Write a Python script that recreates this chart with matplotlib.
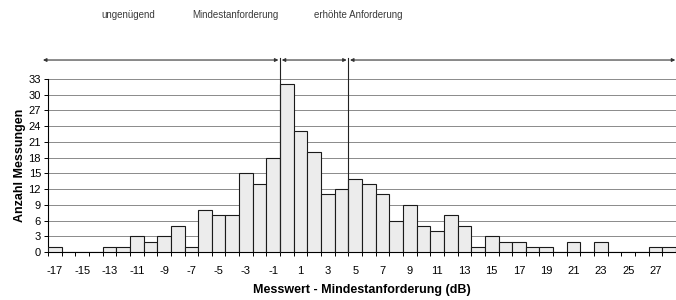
import matplotlib.pyplot as plt
import numpy as np

plt.rcParams['font.family'] = ['Liberation Sans', 'DejaVu Sans']

# Messwert - Mindestanforderung (dB), one bar per dB
werte = list(range(-17, 29))
anzahl = [1, 0, 0, 0, 1, 1, 3, 2, 3, 5, 1, 8, 7, 7, 15, 13, 18,
          32, 23, 19, 11, 12,
          14, 13, 11, 6, 9, 5, 4, 7, 5, 1, 3, 2, 2, 1, 1, 0, 2, 0, 2, 0, 0, 0, 1, 1]
bereiche = ['ungenügend', 'Mindestanforderung', 'erhöhte Anforderung']
grenzen = [-0.5, 4.5]  # dB boundaries between the areas

idx = np.arange(len(werte))
fig = plt.figure(figsize=(6.76, 3.0), dpi=100)
ax = fig.add_axes([0.071, 0.16, 0.929, 0.577])

ax.bar(idx, anzahl, width=1.0, color='#ececec', edgecolor='#1a1a1a', linewidth=0.8, zorder=3)

ax.set_xlim(-0.5, len(werte) - 0.5)
ax.set_ylim(0, 33)
ax.set_yticks(np.arange(0, 34, 3))
ax.yaxis.grid(True, color='#8a8a8a', linewidth=0.7, zorder=0)
ax.set_axisbelow(True)

# tick marks at bar edges, labels under every other bar
ax.set_xticks(np.arange(len(werte) + 1) - 0.5)
ax.set_xticklabels([])
ax.set_xticks(idx[::2], minor=True)
ax.set_xticklabels([str(w) for w in werte[::2]], minor=True)
ax.tick_params(axis='x', which='major', length=3, width=0.7)
ax.tick_params(axis='x', which='minor', length=0, pad=10, labelsize=8)
ax.tick_params(axis='y', length=3, width=0.7, labelsize=8, pad=2)

for s in ['top', 'right']:
    ax.spines[s].set_visible(False)
for s in ['left', 'bottom']:
    ax.spines[s].set_linewidth(0.8)

ax.set_xlabel('Messwert - Mindestanforderung (dB)', fontsize=9, fontweight='bold', labelpad=6)
ax.set_ylabel('Anzahl Messungen', fontsize=9, fontweight='bold', labelpad=2)

# area boundaries and arrows above the plot
def pos(dB):
    return werte.index(int(dB + 0.5)) - 0.5

y_arrow = 36.6
xb = [pos(g) for g in grenzen]
for x in xb:
    ax.plot([x, x], [0, y_arrow + 0.4], color='#222222', linewidth=0.8, clip_on=False, zorder=4)

spans = [(-0.87, xb[0] - 0.12), (xb[0] + 0.12, xb[1] - 0.12), (xb[1] + 0.12, len(werte) - 0.55)]
for a, b in spans:
    ax.annotate('', xy=(b, y_arrow), xytext=(a, y_arrow), annotation_clip=False,
                arrowprops=dict(arrowstyle='<|-|>', color='#333333', lw=0.8,
                                mutation_scale=5, shrinkA=0, shrinkB=0))

for txt, xp in zip(bereiche, [128, 235, 358]):
    fig.text(xp / 676, 1 - 15 / 300, txt, ha='center', va='center', fontsize=7, color='#3a3a3a')

fig.savefig('out.png', dpi=100)
